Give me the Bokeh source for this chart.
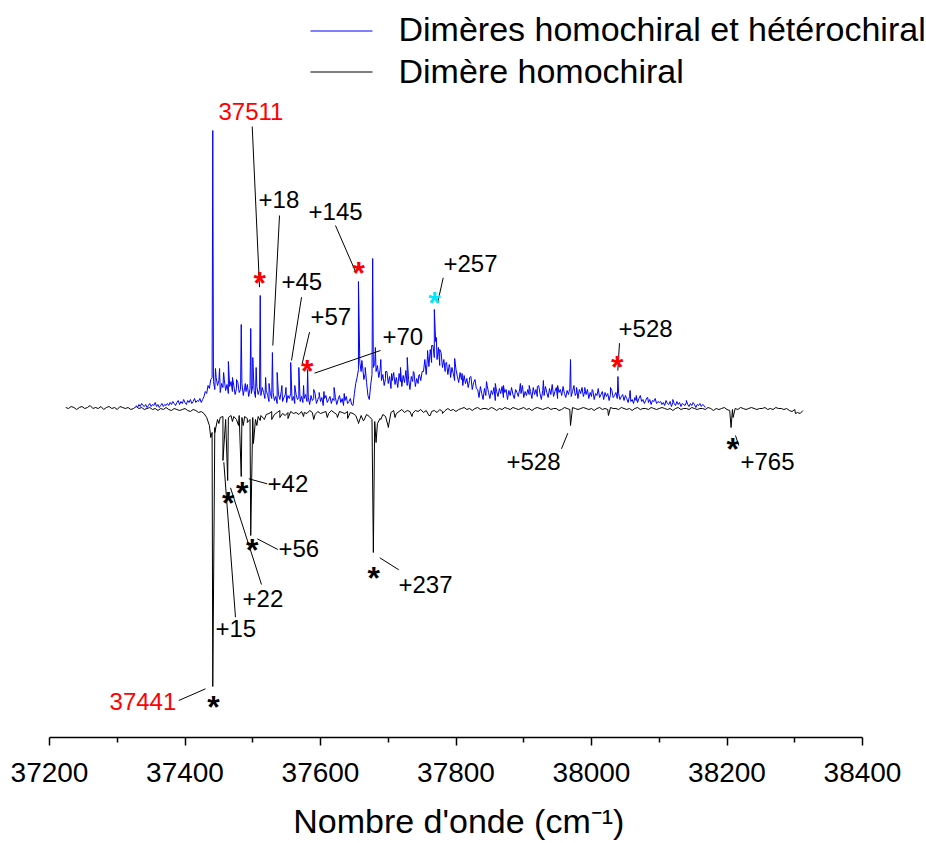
import numpy as np
from bokeh.plotting import figure
from bokeh.models import Range1d, FixedTicker, ColumnDataSource
from bokeh.core.properties import value
from bokeh.embed import file_html
from bokeh.resources import INLINE

FONT = "Liberation Sans"

# ---------------- data (wavenumber in cm-1, signal in arbitrary units) ----------------
# Blue spectrum: dimères homochiral et hétérochiral, sampled every 2 cm-1 from 37328
blue_start, blue_step = 37328, 2
blue_base = [2, 0, 3, 1, 4, 2, 1, 3, 0, 2, 4, 1, 3, 2, 5, 1, 3, 0, 2, 4, 1, 3, 2, 4, 2, 5,
             3, 6, 4, 2, 5, 7, 3, 6, 4, 8, 5, 3, 7, 5, 8, 4, 6, 9, 5, 7, 6, 9, 5, 8, 11, 16,
             14, 22, 19, 28, 30,
             26, 18, 30, 22, 27, 15, 24, 20, 28, 17, 23, 14, 21, 26, 16, 22, 13, 19, 25, 15,
             18, 24, 12, 20, 16, 23, 11, 19, 14, 22, 17, 10, 21, 13, 18, 12, 20, 15, 9, 17,
             12, 6, 14, 9, 15, 7, 11, 4, 13, 8, 16, 6, 10, 13, 5, 12, 9, 14, 7, 11, 4, 13, 8, 10, 6,
             11, 5, 9, 13, 6, 10, 3, 12, 7, 9, 14, 4, 8, 11, 6, 10, 2, 9, 12, 5, 8, 11, 4, 9, 7,
             10, 3, 8, 12, 5, 9, 2, 7, 11, 4, 6, 9, 3, 2, 14, 24,
             30, 38, 45, 36, 42, 28, 34, 25, 12, 8, 22, 33, 40, 44, 36, 42, 30, 38, 27,
             33, 22, 29, 36, 24, 31, 19, 27, 35, 23, 30, 20, 34, 26, 21, 32, 25, 37, 22, 28,
             18, 31, 26, 35, 21, 29, 24, 33, 27, 36,
             36, 48, 33, 52, 41, 58, 45, 62, 50, 66, 48, 60, 42, 55, 40,
             48, 36, 45, 33, 43, 30, 40, 34, 27, 38, 31, 25, 35, 28, 22, 32, 24, 29, 20, 27,
             31, 18, 25, 28, 19,
             18, 10, 21, 14, 8, 19, 12, 22, 15, 9, 17, 13, 20, 7, 16, 11, 19, 14, 21, 10,
             15, 18, 8, 17, 12, 20, 13, 9, 18, 15, 11, 19, 14, 22, 10, 16, 12, 18, 13,
             16, 9, 20, 13, 18, 11, 22, 14, 8, 17, 12, 21, 15, 10, 19, 13, 23, 11, 16, 20,
             9, 15, 18, 12, 21, 14, 10, 17, 13, 19, 11, 16, 22, 12, 15, 9, 18, 14, 20, 11, 16,
             13, 18, 9, 15, 11, 17, 8, 14, 12, 19, 10, 13, 16, 8, 15, 11, 14, 7, 13, 17,
             10, 12, 15, 9, 14, 8, 11, 13, 7, 12,
             9, 5, 11, 6, 8, 4, 10, 7, 5, 9, 12, 6, 8, 4, 7, 10, 5, 8, 3, 7, 6, 9, 4, 6, 5,
             6, 3, 5, 2, 7, 4, 3, 6, 1, 5, 4, 2, 6, 3, 5, 1, 4, 3, 2, 5, 3, 1, 4, 2, 5, 3, 0,
             3, 2, 4, 1, 3, 2, 0]
blue_peak_x = [37441, 37445, 37451, 37457, 37464, 37470, 37476, 37483, 37489, 37497,
               37500, 37505, 37511, 37519, 37524, 37529, 37536, 37543, 37549, 37556,
               37562, 37568, 37575, 37581, 37590, 37598, 37605, 37620, 37635, 37656,
               37661, 37666, 37677, 37681, 37689, 37696, 37705, 37718, 37728, 37737,
               37745, 37758, 37764, 37768, 37771, 37776, 37784, 37791, 37798, 37809,
               37820, 37845, 37858, 37870, 37882, 37895, 37908, 37920, 37929, 37942,
               37950, 37969, 37978, 37990, 38001, 38010, 38028, 38039, 38057, 38066,
               38083, 38120, 38140]
blue_peak_y = [277, 39, 39, 35, 46, 30, 28, 83, 24, 79,
               50, 40, 112, 30, 24, 55, 35, 22, 20, 45,
               22, 40, 22, 38, 18, 15, 16, 20, 14, 126,
               47, 40, 149, 60, 48, 36, 34, 40, 50, 36,
               32, 57, 62, 98, 70, 58, 44, 40, 49, 34,
               30, 26, 24, 22, 20, 24, 22, 21, 27, 23,
               22, 48, 20, 20, 18, 18, 20, 31, 17, 12,
               10, 8, 7]

# Black spectrum: dimère homochiral (drawn inverted), sampled every 4 cm-1 from 37224
black_start, black_step = 37224, 4
black_base = [0, -1, 1, 0, -2, 0, 1, -1, 0, 2, -1, 0, -1, 1, -2, 0, 1, -1, 0, -2,
              1, 0, -1, 0, -2, -1, 1, -1, 0, -2, -1, 0, -2, -1, -3, -1, -2, 0, -2, -3,
              -1, -2, -3, -2, -1, -3, -4, -2, -3, -5, -4, -6,
              -10, -18, -25, -20, -12, -10, -9, -12, -10, -8, -9, -12, -8, -10, -9, -11,
              -12, -10, -12, -9, -8, -11, -7,
              -6, -4, -7, -5, -3, -6, -8, -5, -4, -6, -5, -7, -4, -5, -6, -3, -5, -7, -4,
              -6, -5, -4, -6, -3, -5, -7, -4, -5, -6, -4, -5,
              -6, -8, -15, -8, -13, -7, -9, -12, -14, -16, -11, -7, -9, -19,
              -5, -3, -6, -4, -2, -5, -3, -4, -6, -3, -4, -2, -5, -3, -8, -4, -3, -5, -2,
              -4, -3, -1, -3, -2, -4,
              -2, -1, 0, -2, -1, -3, -1, 0, -2, -1, -1, -2, 0, -1, -3, -1, -2, 0, -1, -2,
              0, -1, -2, -1, 0, -2, -1, -3, -1, 0, -1, -2, -1, 0, -2, -1, -1, -3, -2, 0,
              -1, -2, 0, -1, -2, -1, 0, -1, -2, -1, -3, -1, 0, -2, -1, -2, 0, -1, -1, -2,
              0, -1, -2, -1, -3, -1, 0, -2, -1, -1, -2, 0, -1, -2, -1, 0, -1, -2, -1, -3,
              -1, 0, -2, -1, -1, -2, 0, -1, -2, -1, -1, -2, 0, -1, -3, -1, -2, -1, 0, -2,
              -3, -2, -1, -2, 0, -1, -2, -1, 0, -1, -2, -1, -1, 0, -2, -1, -2, 0, -1, -1,
              -2, -1, -3, -4, -2, -5, -6, -3]
black_peak_x = [37438, 37441, 37444, 37450, 37456, 37463, 37470, 37479, 37483, 37486,
                37492, 37497, 37501, 37506, 37511, 37517, 37528, 37540, 37552, 37575,
                37590, 37610, 37625, 37640, 37656, 37663, 37678, 37682, 37689, 37700,
                37710, 37735, 37762, 37780, 37969, 38025, 38206, 38209, 38301]
black_peak_y = [-30, -279, -25, -16, -53, -73, -14, -18, -69, -18,
                -15, -128, -36, -18, -13, -12, -12, -10, -11, -9,
                -12, -10, -10, -11, -16, -13, -145, -35, -12, -20,
                -10, -9, -8, -6, -18, -8, -20, -10, -6]

legend_labels = ["Dimères homochiral et hétérochiral", "Dimère homochiral"]
legend_colors = ["#0000ff", "#000000"]
x_major_ticks = [37200, 37400, 37600, 37800, 38000, 38200, 38400]
x_minor_ticks = [37300, 37500, 37700, 37900, 38100, 38300]
x_title = "Nombre d'onde (cm\u207b\u00b9)\u00a0"

# annotation labels: text, x (left), y (baseline), colour
ann_text = ["37511", "+18", "+45", "+57", "+70", "+145", "+257", "+528",
            "+42", "+56", "+22", "+15", "37441", "+237", "+528", "+765"]
ann_x = [37449.4, 37508.5, 37542.4, 37585.2, 37691.5, 37582.3, 37781.5, 38039.9,
         37521.8, 37538.0, 37484.9, 37445.0, 37288.6, 37715.1, 37874.5, 38219.9]
ann_y = [287, 199, 117, 82, 62, 187, 135, 70,
         -85, -150, -200, -230, -303, -186, -63, -63]
ann_color = ["#ff0000"] + ["#000000"] * 11 + ["#ff0000"] + ["#000000"] * 3

# connector lines for the labels
con_x0 = [37499.2, 37539.5, 37572.0, 37583.8, 37591.1, 37622.1, 37781.1, 38041.3,
          37494.2, 37506.6, 37467.2, 37457.3, 37390.8, 37687.5, 37955.7, 38212.5]
con_y0 = [281, 192, 110.3, 75.3, 34.3, 182, 129.7, 64.3,
          -71.3, -131.3, -80.3, -54.7, -293, -150.3, -41.3, -28]
con_x1 = [37510.0, 37529.6, 37557.2, 37573.0, 37688.6, 37652.7, 37773.1, 38038.8,
          37521.3, 37537.0, 37512.9, 37474.5, 37430.3, 37715.6, 37965.0, 38217.4]
con_y1 = [120.3, 62, 47, 44, 57, 134.3, 105.3, 37,
          -76.3, -142, -177, -209.7, -281.3, -162.3, -25.7, -38]

# asterisks marking the bands (centre positions)
star_x = [37510.4, 37580.4, 37656.5, 38037.9, 37768.3,
          37484.4, 37499.2, 37463.8, 37442.1, 37678.7, 38208.6]
star_y = [129, 41, 138.7, 45.3, 109.3,
          -81.3, -138, -91.3, -294.7, -165.7, -37]
star_color = ["#ff0000", "#ff0000", "#ff0000", "#ff0000", "#00e8ff",
              "#000000", "#000000", "#000000", "#000000", "#000000", "#000000"]


def trace(start, step, base, px, py):
    xs = [start + step * i for i in range(len(base))] + list(px)
    ys = list(base) + list(py)
    order = np.argsort(np.array(xs, dtype=float), kind="stable")
    return np.array(xs, dtype=float)[order], np.array(ys, dtype=float)[order]


bx, by = trace(blue_start, blue_step, blue_base, blue_peak_x, blue_peak_y)
kx, ky = trace(black_start, black_step, black_base, black_peak_x, black_peak_y)

# text baseline compensation (fraction of the font size)
BL = 0.37
ANN_SIZE, LEG_SIZE, STAR_SIZE = 24, 34, 32

# ---------------- figure ----------------
p = figure(width=926, height=843,
           x_range=Range1d(37127.675, 38494.45), y_range=Range1d(-330, 407),
           y_axis_location=None, toolbar_location=None, output_backend="svg",
           min_border_left=0, min_border_right=0, min_border_top=0, min_border_bottom=106)
p.grid.visible = False
p.outline_line_color = None
p.background_fill_color = "white"
p.border_fill_color = "white"

p.line(kx, ky, line_color="#000000", line_width=1)
p.line(bx, by, line_color="#0000ff", line_width=1)

# legend (drawn by hand, above the spectra)
for ly, col in zip([376.5, 335.5], legend_colors):
    p.line(x=[37585.2, 37676.7], y=[ly, ly], line_color=col, line_width=1.2)
p.text(x=[37715.1, 37715.1], y=[366 + BL * LEG_SIZE, 324 + BL * LEG_SIZE], text=legend_labels,
       text_font=value(FONT), text_font_size=f"{LEG_SIZE}px", text_color="#000000",
       text_baseline="alphabetic", text_align="left")

# connectors, labels, asterisks
p.segment(x0=con_x0, y0=con_y0, x1=con_x1, y1=con_y1, line_color="#000000", line_width=1)
ann_src = ColumnDataSource(dict(x=ann_x, y=[y + BL * ANN_SIZE for y in ann_y],
                                text=ann_text, color=ann_color))
p.text(x="x", y="y", text="text", text_color="color", source=ann_src,
       text_font=value(FONT), text_font_size=f"{ANN_SIZE}px",
       text_baseline="alphabetic", text_align="left")
star_src = ColumnDataSource(dict(x=star_x, y=[y - 0.14 * STAR_SIZE for y in star_y],
                                 text=["*"] * len(star_x), color=star_color))
p.text(x="x", y="y", text="text", text_color="color", source=star_src,
       text_font=value(FONT), text_font_size=f"{STAR_SIZE}px", text_font_style="bold",
       text_baseline="alphabetic", text_align="center")

# x axis
ax = p.xaxis[0]
ax.bounds = (37200, 38400)
ax.ticker = FixedTicker(ticks=x_major_ticks, minor_ticks=x_minor_ticks)
ax.major_label_overrides = {t: str(t) for t in x_major_ticks}
ax.axis_line_color = "#000000"
ax.axis_line_width = 1.5
ax.major_tick_line_color = "#000000"
ax.major_tick_line_width = 1.5
ax.minor_tick_line_color = "#000000"
ax.minor_tick_line_width = 1.5
ax.major_tick_in = 0
ax.major_tick_out = 8
ax.minor_tick_in = 0
ax.minor_tick_out = 5
ax.major_label_standoff = 17
ax.major_label_text_font = FONT
ax.major_label_text_font_size = "28px"
ax.major_label_text_color = "#000000"
ax.axis_label = x_title
ax.axis_label_text_font = FONT
ax.axis_label_text_font_size = "34px"
ax.axis_label_text_font_style = "normal"
ax.axis_label_text_color = "#000000"
ax.axis_label_standoff = 17

open("out.html", "w").write(file_html(p, INLINE))
